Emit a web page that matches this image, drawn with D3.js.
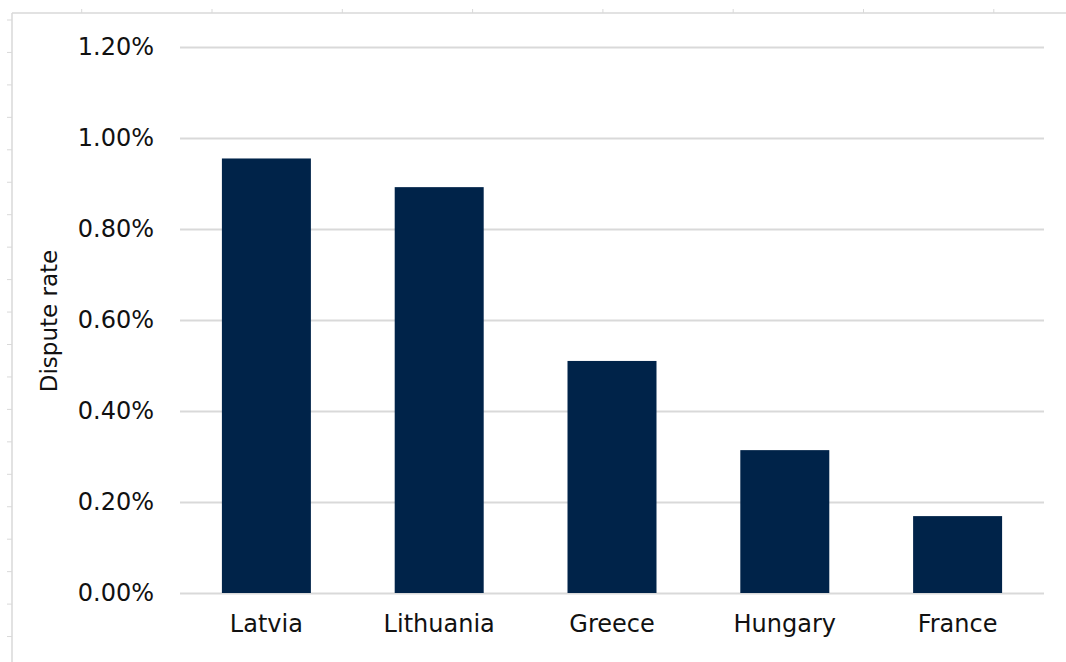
<!DOCTYPE html>
<html>
<head>
<meta charset="utf-8">
<script src="https://cdn.jsdelivr.net/npm/d3@7/dist/d3.min.js"></script>
<style>
  html, body { margin: 0; padding: 0; background: #ffffff; }
  svg { display: block; }
</style>
</head>
<body>
<svg id="chart" width="1066" height="662"></svg>
<script>
// ---- data ----
const categories = ["Latvia", "Lithuania", "Greece", "Hungary", "France"];
const disputeRate = [0.00955, 0.00892, 0.00510, 0.00314, 0.00169];
const yTicks = [0, 0.002, 0.004, 0.006, 0.008, 0.010, 0.012];
const yTitle = "Dispute rate";

// ---- layout ----
const W = 1066, H = 662;
const plot = { left: 180, right: 1044, top: 47, bottom: 593 };
const font = "'DejaVu Sans', Verdana, sans-serif";
const textColor = "#111111";
const gridColor = "#d9d9d9";
const barColor = "#002349";

const svg = d3.select("#chart");

// spreadsheet frame decoration
const frame = svg.append("g");
frame.append("line").attr("x1", 12).attr("x2", W).attr("y1", 13).attr("y2", 13)
  .attr("stroke", gridColor).attr("stroke-width", 1.5);
frame.append("line").attr("x1", 12).attr("x2", 12).attr("y1", 13).attr("y2", H)
  .attr("stroke", gridColor).attr("stroke-width", 1.5);
frame.selectAll(".ct").data(d3.range(8)).join("line")
  .attr("x1", i => 81.7 + i * 130.3).attr("x2", i => 81.7 + i * 130.3)
  .attr("y1", 9).attr("y2", 13).attr("stroke", gridColor).attr("stroke-width", 1);
frame.selectAll(".rt").data(d3.range(20)).join("line")
  .attr("y1", i => 20 + i * 32.45).attr("y2", i => 20 + i * 32.45)
  .attr("x1", 7).attr("x2", 12).attr("stroke", gridColor).attr("stroke-width", 1);

// scales
const x = d3.scaleBand().domain(categories).range([plot.left, plot.right])
  .paddingInner(0.485).paddingOuter(0.2425);
const y = d3.scaleLinear().domain([0, 0.012]).range([plot.bottom, plot.top]);

// gridlines + y labels
const yAxis = d3.axisLeft(y).tickValues(yTicks)
  .tickSize(-(plot.right - plot.left)).tickPadding(26)
  .tickFormat(d3.format(".2%"));
const gy = svg.append("g").attr("transform", `translate(${plot.left},0)`).call(yAxis);
gy.select(".domain").remove();
gy.selectAll(".tick line").attr("stroke", gridColor).attr("stroke-width", 2);
gy.selectAll(".tick text").attr("fill", textColor)
  .style("font-family", font).style("font-size", "24px");

// bars
svg.append("g").selectAll("rect").data(categories).join("rect")
  .attr("x", d => x(d))
  .attr("width", x.bandwidth())
  .attr("y", (d, i) => y(disputeRate[i]))
  .attr("height", (d, i) => y(0) - y(disputeRate[i]))
  .attr("fill", barColor);

// x axis labels
const xAxis = d3.axisBottom(x).tickSize(0).tickPadding(22);
const gx = svg.append("g").attr("transform", `translate(0,${plot.bottom})`).call(xAxis);
gx.select(".domain").remove();
gx.selectAll(".tick text").attr("fill", textColor)
  .style("font-family", font).style("font-size", "24px");

// y title
svg.append("text")
  .attr("transform", `translate(57,${321}) rotate(-90)`)
  .attr("text-anchor", "middle")
  .attr("fill", textColor)
  .style("font-family", font).style("font-size", "23px")
  .text(yTitle);
</script>
</body>
</html>
